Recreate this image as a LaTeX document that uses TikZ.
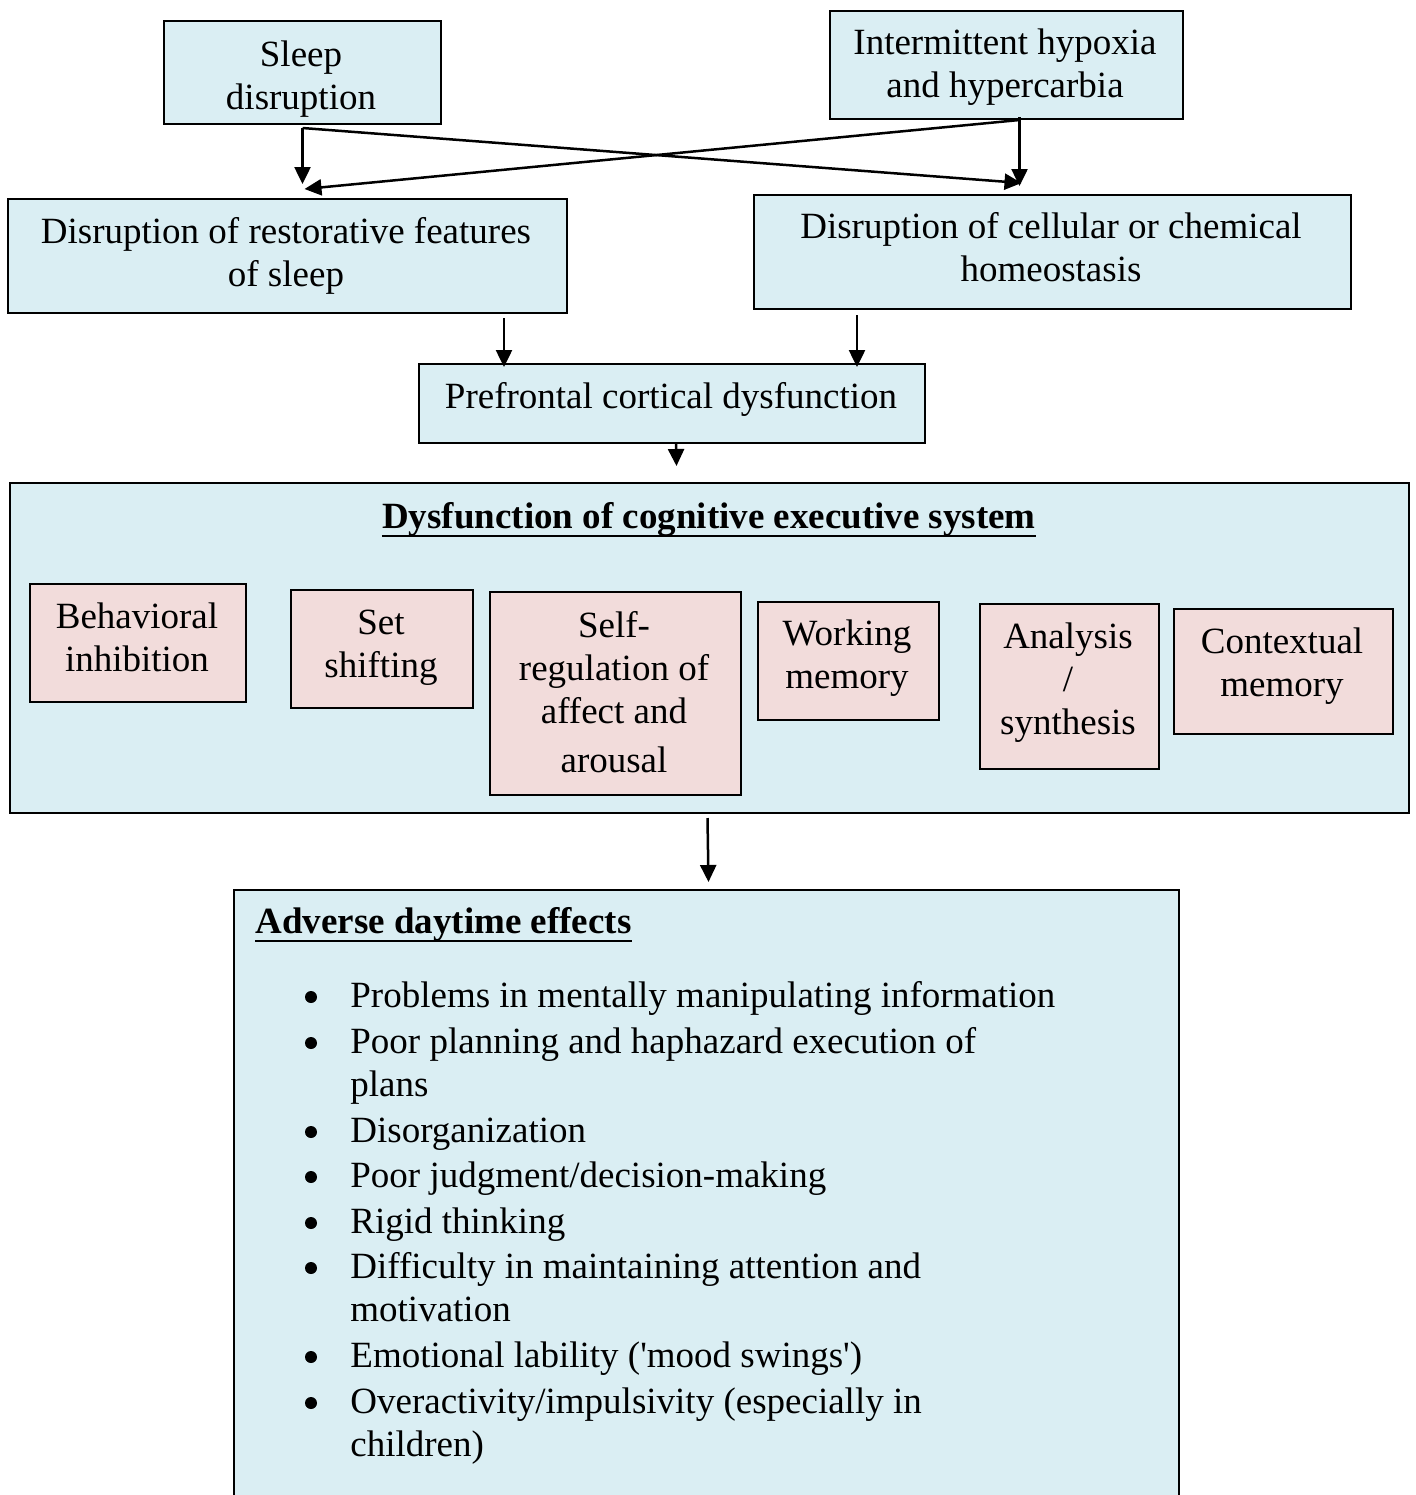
\documentclass[tikz,border=0pt]{standalone}
\usepackage{fontspec}
\setmainfont{Liberation Serif}[Ligatures=TeXOff]
\usetikzlibrary{arrows.meta,calc}
\definecolor{boxblue}{HTML}{DAEEF3}
\definecolor{boxpink}{HTML}{F2DCDB}
\begin{document}
\begin{tikzpicture}[x=0.5pt,y=-0.5pt,
  bbox/.style={draw=black, line width=1pt, fill=boxblue, inner sep=0pt, anchor=north west},
  pbox/.style={bbox, fill=boxpink},
  txt/.style={font=\fontsize{18.5pt}{21.5pt}\selectfont, align=center, inner sep=0pt, anchor=base},
  ltxt/.style={font=\fontsize{18.5pt}{21.5pt}\selectfont, align=left, inner sep=0pt, anchor=base west},
  bul/.style={circle, fill=black, inner sep=0pt, minimum size=6pt},
  uline/.style={line width=1.25pt},
  arr/.style={-{Triangle[length=8.5pt,width=8pt]}, line width=1.25pt}]
\useasboundingbox (0,0) rectangle (1415,1495);
\fill[white] (0,0) rectangle (1415,1495);
% boxes
\node[bbox, minimum width=138.5pt, minimum height=51.5pt] (sleep) at (163,20) {};
\node[bbox, minimum width=176.5pt, minimum height=54pt] (hyp) at (829,10) {};
\node[bbox, minimum width=279.5pt, minimum height=57pt] (rest) at (7,198) {};
\node[bbox, minimum width=298.5pt, minimum height=57pt] (cell) at (753,194) {};
\node[bbox, minimum width=253pt, minimum height=39.5pt] (pref) at (418,363) {};
\node[bbox, minimum width=699.5pt, minimum height=165pt] (big) at (9,482) {};
\node[pbox, minimum width=108pt, minimum height=59pt] (beh) at (29,583) {};
\node[pbox, minimum width=91pt, minimum height=59pt] (set) at (290,589) {};
\node[pbox, minimum width=125.5pt, minimum height=101.5pt] (self) at (489,591) {};
\node[pbox, minimum width=90.5pt, minimum height=59pt] (work) at (757,601) {};
\node[pbox, minimum width=89.5pt, minimum height=82.5pt] (ana) at (979,603) {};
\node[pbox, minimum width=109.5pt, minimum height=62.5pt] (ctx) at (1173,608) {};
\node[bbox, minimum width=472.5pt, minimum height=306pt] (adv) at (233,889) {};
% texts (anchor = baseline of last line)
\node[txt] (tsleep) at (301,109) {Sleep\\disruption};
\node[txt] (thyp) at (1005,97) {Intermittent hypoxia\\and hypercarbia};
\node[txt] (trest) at (286,286) {Disruption of restorative features\\of sleep};
\node[txt] (tcell) at (1051,281) {Disruption of cellular or chemical\\homeostasis};
\node[txt] (tpref) at (671,408) {Prefrontal cortical dysfunction};
\node[txt] (tbig) at (709,528) {\textbf{Dysfunction of cognitive executive system}};
\draw[uline] ($(tbig.base west)+(0,8)$) -- ($(tbig.base east)+(0,8)$);
\node[txt] (tbeh) at (137,671) {Behavioral\\inhibition};
\node[txt] (tset) at (381,677) {Set\\shifting};
\node[txt] (tself) at (614,772) {Self-\\regulation of\\affect and\\[3pt]arousal};
\node[txt] (twork) at (847,688) {Working\\memory};
\node[txt] (tana) at (1068,734) {Analysis\\/\\synthesis};
\node[txt] (tctx) at (1282,696) {Contextual\\memory};
\node[ltxt] (tadv) at (255,933) {\textbf{Adverse daytime effects}};
\draw[uline] ($(tadv.base west)+(0,8)$) -- ($(tadv.base east)+(0,8)$);
% bullets
\foreach \n/\y in {1/1007,2/1053,3/1142,4/1187,5/1233,6/1278,7/1367,8/1413}
  \node[bul] (d\n) at (311,\y-10) {};
\node[ltxt] (b1) at (350,1007) {Problems in mentally manipulating information};
\node[ltxt] (b2) at (350,1096) {Poor planning and haphazard execution of\\plans};
\node[ltxt] (b3) at (350,1142) {Disorganization};
\node[ltxt] (b4) at (350,1187) {Poor judgment/decision-making};
\node[ltxt] (b5) at (350,1233) {Rigid thinking};
\node[ltxt] (b6) at (350,1321) {Difficulty in maintaining attention and\\motivation};
\node[ltxt] (b7) at (350,1367) {Emotional lability ('mood swings')};
\node[ltxt] (b8) at (350,1456) {Overactivity/impulsivity (especially in\\children)};
% arrows
\coordinate (sA) at ($(sleep.south)+(0,3)$);
\coordinate (hA) at ($(hyp.south)+(13,-3)$);
\draw[arr] (sA) -- ($(sA |- rest.north)+(0,-14)$);
\draw[arr] (sA) -- ($(hA |- cell.north)+(2,-11)$);
\draw[arr] (hA) -- ($(hA |- cell.north)+(0,-8)$);
\draw[arr] ($(hA)+(0,3)$) -- ($(sA |- rest.north)+(2,-9)$);
\coordinate (rp) at ($(rest.south west)+(497,4)$);
\coordinate (cp) at ($(cell.south west)+(104,5)$);
\draw[arr] (rp) -- ($(rp |- pref.north)+(0,4)$);
\draw[arr] (cp) -- ($(cp |- pref.north)+(0,4)$);
\draw[arr] ($(pref.south)+(4,0)$) -- ($(big.north)+(-33,-16)$);
\draw[arr] ($(big.south)+(-2,4)$) -- ($(adv.north)+(2,-7)$);
\end{tikzpicture}
\end{document}
